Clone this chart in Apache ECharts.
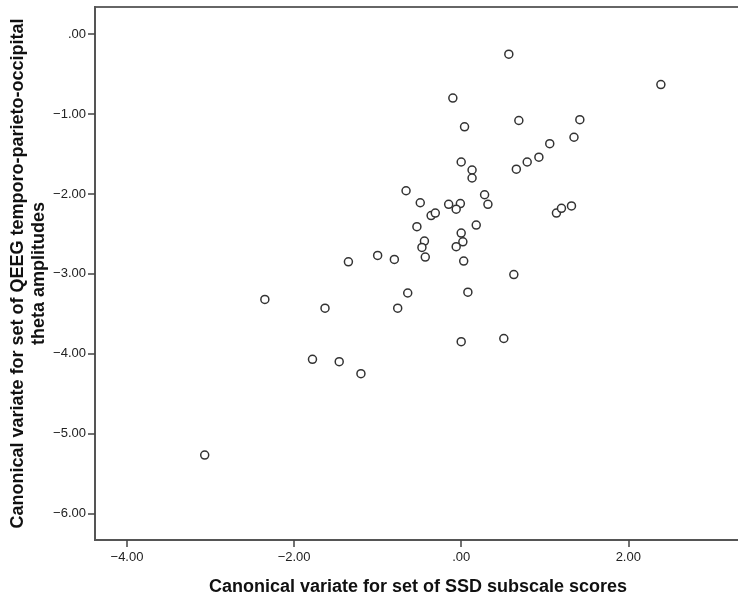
<!DOCTYPE html>
<html>
<head>
<meta charset="utf-8">
<script src="https://cdn.jsdelivr.net/npm/echarts@6/dist/echarts.min.js"></script>
<style>
  html, body { margin: 0; padding: 0; background: #fff; }
  #chart { width: 738px; height: 601px; }
</style>
</head>
<body>
<div id="chart"></div>
<script>
// canonical variate pairs
const ssdScores = [
  0.57, 2.39, -0.10, 0.04, 0.69, 1.42, 1.35, 1.06, 0.93, 0.79,
  0.66, 0.00, 0.13, 0.13, -0.66, 0.28, 0.32, -0.49, -0.15, -0.01,
  -0.06, -0.36, -0.31, 1.14, 1.20, 1.32, -0.53, 0.18, 0.00, 0.02,
  -0.06, -0.44, -0.47, -0.43, -1.00, -0.80, 0.03, 0.63, -0.64, 0.08,
  -0.76, -1.35, -2.35, -1.63, -1.78, -1.46, -1.20, 0.00, 0.51, -3.07
]
const qeegTheta = [
  -0.25, -0.63, -0.80, -1.16, -1.08, -1.07, -1.29, -1.37, -1.54, -1.60,
  -1.69, -1.60, -1.70, -1.80, -1.96, -2.01, -2.13, -2.11, -2.13, -2.12,
  -2.19, -2.27, -2.24, -2.24, -2.18, -2.15, -2.41, -2.39, -2.49, -2.60,
  -2.66, -2.59, -2.67, -2.79, -2.77, -2.82, -2.84, -3.01, -3.24, -3.23,
  -3.43, -2.85, -3.32, -3.43, -4.07, -4.10, -4.25, -3.85, -3.81, -5.27
]
const xTicks = [-4, -2, 0, 2]
const yTicks = [0, -1, -2, -3, -4, -5, -6]

const xName = 'Canonical variate for set of SSD subscale scores'
const yName = 'Canonical variate for set of QEEG temporo-parieto-occipital\ntheta amplitudes'

const font = '"Liberation Sans", Arial, sans-serif'

// SPSS style: ".00", "−1.00"
function spssFmt(v) {
  if (v === 0) return '.00'
  return (v < 0 ? '\u2212' : '') + Math.abs(v).toFixed(2)
}

const points = ssdScores.map((x, i) => [x, qeegTheta[i]])

const chart = echarts.init(document.getElementById('chart'))
chart.setOption({
  animation: false,
  grid: {
    left: 95,
    top: 7,
    right: -3,
    bottom: 61,
    outerBoundsMode: 'none',
    containLabel: false,
    show: true,
    borderColor: '#666',
    borderWidth: 2
  },
  xAxis: {
    type: 'value',
    min: -4.383,
    max: 3.349,
    name: xName,
    nameLocation: 'middle',
    nameGap: 38,
    nameMoveOverlap: false,
    nameTextStyle: {
      fontFamily: font,
      fontSize: 18,
      fontWeight: 'bold',
      color: '#111'
    },
    splitLine: { show: false },
    axisLine: { onZero: false, lineStyle: { color: '#555', width: 2 } },
    axisTick: {
      customValues: xTicks,
      length: 7,
      lineStyle: { color: '#444', width: 1.5 }
    },
    axisLabel: {
      customValues: xTicks,
      formatter: spssFmt,
      margin: 11,
      fontFamily: font,
      fontSize: 13,
      color: '#222'
    }
  },
  yAxis: {
    type: 'value',
    min: -6.333,
    max: 0.341,
    name: yName,
    nameLocation: 'middle',
    nameGap: 45,
    nameMoveOverlap: false,
    nameTextStyle: {
      fontFamily: font,
      fontSize: 18,
      fontWeight: 'bold',
      lineHeight: 21,
      color: '#111'
    },
    splitLine: { show: false },
    axisLine: { onZero: false, lineStyle: { color: '#555', width: 2 } },
    axisTick: {
      customValues: yTicks,
      length: 7,
      lineStyle: { color: '#444', width: 1.5 }
    },
    axisLabel: {
      customValues: yTicks,
      formatter: spssFmt,
      margin: 9,
      fontFamily: font,
      fontSize: 13,
      color: '#222'
    }
  },
  series: [{
    type: 'scatter',
    data: points,
    symbol: 'circle',
    symbolSize: 8,
    itemStyle: {
      color: '#fff',
      borderColor: '#333',
      borderWidth: 1.5,
      opacity: 1
    }
  }]
})
</script>
</body>
</html>
